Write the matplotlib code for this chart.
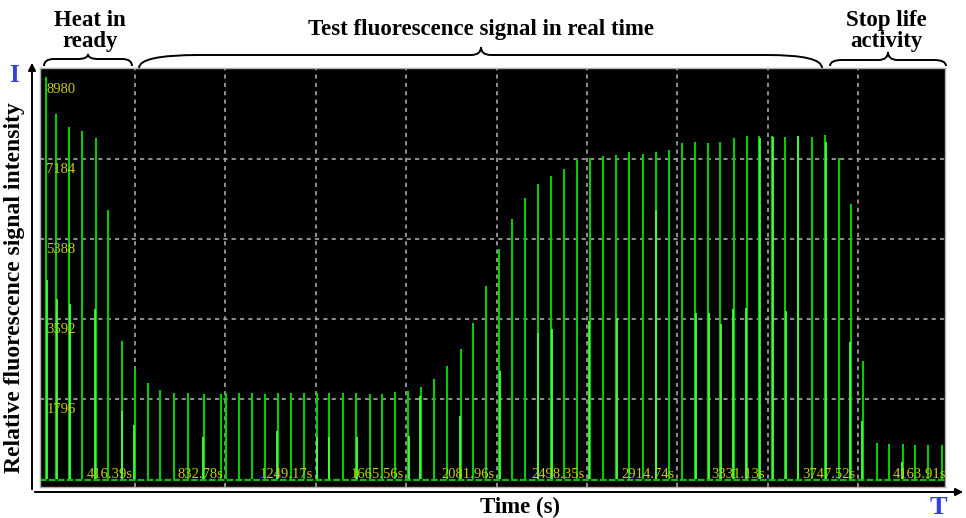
import matplotlib
matplotlib.use("Agg")
import matplotlib.pyplot as plt
from matplotlib.path import Path
from matplotlib.patches import PathPatch, FancyArrowPatch

# ---------------- data ----------------
times = [6.4, 51.1, 111.0, 170.9, 236.8, 293.4, 355.1, 415.0, 474.9, 532.9,
         597.4, 659.1, 734.2, 812.5, 837.8, 896.8, 956.7, 1016.6, 1075.0, 1134.9,
         1194.8, 1253.3, 1311.3, 1374.4, 1434.3, 1497.4, 1554.1, 1612.6, 1673.8, 1732.3,
         1792.2, 1854.8, 1916.6, 1974.6, 2033.1, 2093.0, 2154.2, 2212.7, 2271.2, 2331.1,
         2392.4, 2453.6, 2513.5, 2573.4, 2631.9, 2691.8, 2754.0, 2816.2, 2874.7, 2934.5,
         2995.8, 3057.1, 3111.0, 3174.0, 3233.9, 3290.6, 3351.8, 3411.7, 3468.8, 3533.3,
         3593.2, 3657.7, 3714.4, 3771.0, 3835.5, 3890.8, 3953.9, 4009.2, 4070.4, 4132.1]
values = [9030, 8190, 7910, 7805, 7650, 6040, 3100, 2460, 2150, 2000,
          1940, 1940, 1900, 1900, 1925, 1940, 1925, 1900, 1925, 1925,
          1940, 1940, 1925, 1925, 1940, 1900, 1900, 1960, 1985, 2075,
          2250, 2545, 2925, 3510, 4335, 5160, 5840, 6300, 6630, 6800,
          6950, 7155, 7205, 7260, 7275, 7350, 7300, 7350, 7385, 7535,
          7565, 7535, 7565, 7655, 7705, 7705, 7700, 7685, 7670, 7685,
          7725, 7215, 6175, 2655, 800, 785, 785, 755, 755, 755]

times2 = [9.7, 55.7, 117.0, 232.0, 358.0, 410.0, 731.0, 1072.0, 1256.0, 1311.0,
          1439.0, 1677.0, 1729.0, 1912.0, 2098.0, 2274.0, 2336.0, 2509.0, 2635.0, 2815.0,
          3000.0, 3060.0, 3116.0, 3169.0, 3231.0, 3295.0, 3356.0, 3416.0, 3472.0, 3599.0,
          3710.0, 3766.0, 3949.0]
values2 = [4468, 4041, 3929, 3816, 1527, 1212, 936, 1085, 936, 936,
           936, 965, 1871, 1422, 2432, 3285, 3367, 3554, 3607, 6039,
           3720, 3720, 3480, 3809, 3832, 7655, 7670, 3779, 7700, 7573,
           3069, 1309, 389]

y_ticks = [8980, 7184, 5388, 3592, 1796]
y_grid = [7184, 5388, 3592, 1796]
x_ticks = [416.39, 832.78, 1249.17, 1665.56, 2081.96, 2498.35, 2914.74,
           3331.13, 3747.52, 4163.91]
x_tick_labels = ["416.39s", "832.78s", "1249.17s", "1665.56s", "2081.96s",
                 "2498.35s", "2914.74s", "3331.13s", "3747.52s", "4163.91s"]

phase_labels = ["Heat in\nready", "Test fluorescence signal in real time",
                "Stop life\nactivity"]

# ---------------- figure ----------------
W, H = 966, 518
fig = plt.figure(figsize=(W / 100, H / 100), dpi=100)
fig.patch.set_facecolor("white")


def fx(x):
    return x / W


def fy(y):
    return 1 - y / H


ax = fig.add_axes([fx(40), fy(487), (945 - 40) / W, (487 - 68) / H])
ax.set_facecolor("black")
ax.set_xlim(-21, 4147)
ax.set_ylim(-180, 9227)
ax.set_xticks([])
ax.set_yticks([])
for s in ax.spines.values():
    s.set_color("#b0b0b0")
    s.set_linewidth(1.0)

grid_kw = dict(color="#a8a8a8", lw=1.2, linestyle=(0, (2.5, 2.5)), zorder=1)
for xv in x_ticks:
    ax.axvline(xv, **grid_kw)
for yv in y_grid:
    ax.axhline(yv, **grid_kw)

ax.axhline(-25, color="#00c000", lw=1.6, linestyle=(0, (3, 1)), zorder=2)

ax.vlines(times, 0, values, colors="#00cc00", lw=1.5, zorder=3)
ax.vlines(times2, 0, values2, colors="#44ff44", lw=1.3, zorder=4)

lab_col = "#cccc10"
for yv in y_ticks:
    ax.text(8, yv - 90, str(yv), color=lab_col, fontsize=10.5,
            family="Liberation Serif", ha="left", va="top", zorder=5)
for xv, lab in zip(x_ticks, x_tick_labels):
    ax.text(xv - 12, 25, lab, color=lab_col, fontsize=10.5,
            family="Liberation Serif", ha="right", va="baseline",
            zorder=5, clip_on=True)

# ---------------- outer decorations ----------------
bold_kw = dict(family="Liberation Serif", fontweight="bold", color="black")

fig.text(fx(15), fy(288), "Relative fluorescence signal intensity",
         rotation=90, ha="center", va="center", fontsize=17, **bold_kw)
fig.text(fx(520), fy(507), "Time (s)", ha="center", va="center",
         fontsize=16.5, **bold_kw)

fig.text(fx(90), fy(31), phase_labels[0], ha="center", va="center",
         fontsize=16.5, linespacing=1.0, **bold_kw)
fig.text(fx(481), fy(30), phase_labels[1], ha="center", va="center",
         fontsize=16.5, **bold_kw)
fig.text(fx(886), fy(31), phase_labels[2], ha="center", va="center",
         fontsize=16.5, linespacing=1.0, **bold_kw)

fig.text(fx(14), fy(75), "I", ha="center", va="center", fontsize=18,
         family="Liberation Serif", fontweight="bold", color="#3340e0")
fig.text(fx(938), fy(508), "T", ha="center", va="center", fontsize=19,
         family="Liberation Serif", fontweight="bold", color="#3340e0")


def brace(x1, x2, yb, ym, xt, yt, r1, r2):
    pts = [(x1, yb), (x1, ym), (x1 + r1, ym),
           (xt - 10, ym), (xt, ym), (xt, yt),
           (xt, ym), (xt + 10, ym),
           (x2 - r2, ym), (x2, ym), (x2, yb)]
    codes = [Path.MOVETO, Path.CURVE3, Path.CURVE3,
             Path.LINETO, Path.CURVE3, Path.CURVE3,
             Path.CURVE3, Path.CURVE3,
             Path.LINETO, Path.CURVE3, Path.CURVE3]
    pts = [(fx(a), fy(b)) for a, b in pts]
    p = PathPatch(Path(pts, codes), transform=fig.transFigure,
                  fill=False, lw=1.4, edgecolor="black")
    fig.add_artist(p)


brace(44, 132, 66, 59, 88, 54, 10, 10)
brace(139, 822, 68, 55, 481, 47, 60, 55)
brace(830, 946, 66, 60, 888, 52, 12, 12)

# axis arrows
arr_y = FancyArrowPatch((fx(32), fy(492)), (fx(32), fy(60)),
                        transform=fig.transFigure, arrowstyle="-|>",
                        mutation_scale=11, lw=1.4, color="black")
arr_x = FancyArrowPatch((fx(32), fy(492)), (fx(966), fy(492)),
                        transform=fig.transFigure, arrowstyle="-|>",
                        mutation_scale=11, lw=1.4, color="black")
fig.add_artist(arr_y)
fig.add_artist(arr_x)

fig.savefig("out.png", dpi=100, facecolor="white")
